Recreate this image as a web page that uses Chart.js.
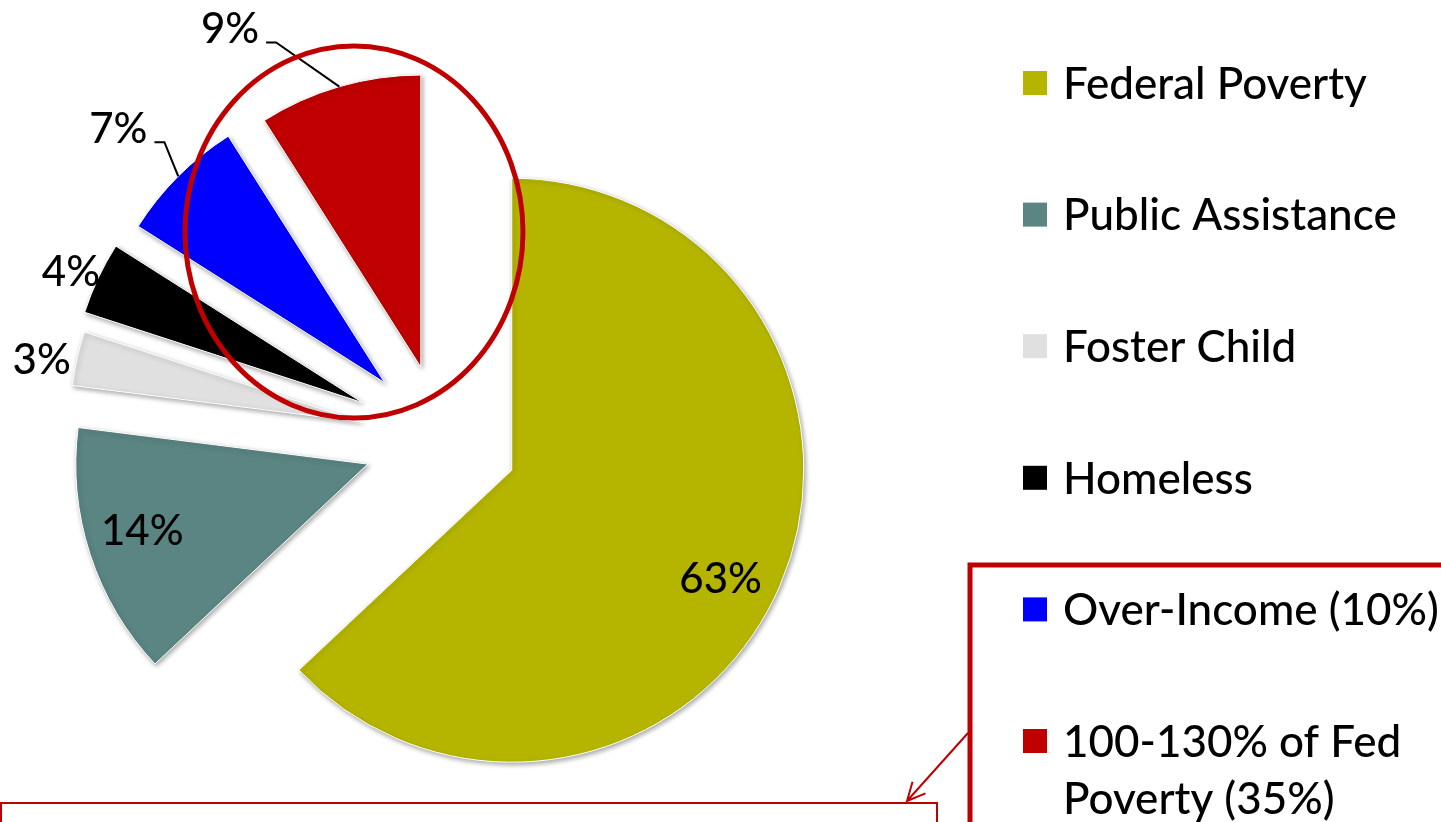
<!DOCTYPE html>
<html>
<head>
<meta charset="utf-8">
<script src="https://cdn.jsdelivr.net/npm/chart.js@4.4.1/dist/chart.umd.min.js"></script>
<style>
  html, body { margin: 0; padding: 0; background: #ffffff; overflow: hidden; }
  canvas { display: block; }
</style>
</head>
<body>
<canvas id="chart" width="1441" height="822"></canvas>
<script>
// ---------------- data ----------------
const categories = [
  'Federal Poverty',
  'Public Assistance',
  'Foster Child',
  'Homeless',
  'Over-Income (10%)',
  '100-130% of Fed\nPoverty (35%)'
];
const shares = [63, 14, 3, 4, 7, 9];
const valueLabels = ['63%', '14%', '3%', '4%', '7%', '9%'];

// ---------------- style ----------------
const colors = ['#B5B500', '#5A8583', '#E0E0E0', '#000000', '#0000FF', '#C00000'];
const explode = [76, 78, 82, 88, 81, 76];           // explosion distance per slice (px)
const labelPlace = [                                  // label radius factor / angle tweak (deg)
  { k: 0.805, da: 3.9 },
  { k: 0.805, da: 1.7 },
  { k: 1.118, da: -1.5 },
  { k: 1.095, da: -0.9 },
  { k: 1.262, da: -1.3 },
  { k: 1.331, da: -13.2 }
];
const hasLeader = [false, false, false, false, true, true];
const FONT = 'Lato, "Open Sans", sans-serif';
const WEIGHT = '500';
const LABEL_SIZE = 42;
const LEGEND_SIZE = 44;
const RED = '#C00000';

const explodePlugin = {
  id: 'explodeSlices',
  afterDatasetUpdate(chart, args) {
    const meta = chart.getDatasetMeta(args.index);
    const ca = chart.chartArea;
    const cx = (ca.left + ca.right) / 2;
    const cy = (ca.top + ca.bottom) / 2;
    meta.data.forEach((arc, i) => {
      const mid = (arc.startAngle + arc.endAngle) / 2;
      arc.x = cx + explode[i] * Math.cos(mid);
      arc.y = cy + explode[i] * Math.sin(mid);
    });
  }
};

const shadowPlugin = {
  id: 'sliceShadow',
  beforeDatasetsDraw(chart) {
    const ctx = chart.ctx;
    ctx.save();
    ctx.shadowColor = 'rgba(0,0,0,0.35)';
    ctx.shadowBlur = 5;
    ctx.shadowOffsetX = 1.5;
    ctx.shadowOffsetY = 2;
  },
  afterDatasetsDraw(chart) {
    chart.ctx.restore();
  }
};

const labelPlugin = {
  id: 'sliceLabels',
  afterDatasetsDraw(chart) {
    const ctx = chart.ctx;
    const meta = chart.getDatasetMeta(0);
    ctx.save();
    ctx.font = WEIGHT + ' ' + LABEL_SIZE + 'px ' + FONT;
    ctx.fillStyle = '#000000';
    ctx.textAlign = 'center';
    ctx.textBaseline = 'alphabetic';
    meta.data.forEach((arc, i) => {
      const R = arc.outerRadius;
      const mid = (arc.startAngle + arc.endAngle) / 2;
      const a = mid + labelPlace[i].da * Math.PI / 180;
      const px = arc.x + labelPlace[i].k * R * Math.cos(a);
      const py = arc.y + labelPlace[i].k * R * Math.sin(a);
      const base = py + 0.358 * LABEL_SIZE;
      ctx.fillText(valueLabels[i], px, base);
      if (hasLeader[i]) {
        const w = ctx.measureText(valueLabels[i]).width;
        const sx = px + w / 2 + 7;
        const sy = base - 1;
        ctx.beginPath();
        ctx.moveTo(sx, sy);
        ctx.lineTo(sx + 10, sy);
        ctx.lineTo(arc.x + R * Math.cos(mid), arc.y + R * Math.sin(mid));
        ctx.strokeStyle = '#000000';
        ctx.lineWidth = 2;
        ctx.stroke();
      }
    });
    ctx.restore();
  }
};

const legendPlugin = {
  id: 'sideLegend',
  afterDraw(chart) {
    const ctx = chart.ctx;
    const x0 = 1023, top = 83, gap = 131.6, box = 24, textX = 1063, lineH = 57;
    ctx.save();
    ctx.font = WEIGHT + ' ' + LEGEND_SIZE + 'px ' + FONT;
    ctx.textAlign = 'left';
    ctx.textBaseline = 'alphabetic';
    categories.forEach((name, i) => {
      const cy = top + i * gap;
      ctx.fillStyle = colors[i];
      ctx.fillRect(x0, cy - box / 2, box, box);
      ctx.fillStyle = '#000000';
      name.split('\n').forEach((line, j) => {
        ctx.fillText(line, textX, cy + 0.358 * LEGEND_SIZE + j * lineH);
      });
    });
    ctx.restore();
  }
};

const annotationPlugin = {
  id: 'annotations',
  afterDraw(chart) {
    const ctx = chart.ctx;
    ctx.save();
    ctx.strokeStyle = RED;
    // ellipse around the two highlighted slices
    ctx.lineWidth = 5;
    ctx.beginPath();
    ctx.ellipse(354, 232, 169, 186, 0, 0, Math.PI * 2);
    ctx.stroke();
    // box around highlighted legend entries
    ctx.lineWidth = 5;
    ctx.strokeRect(970, 565, 600, 400);
    // bottom box
    ctx.lineWidth = 2;
    ctx.strokeRect(1, 803, 936, 100);
    // arrow
    const x1 = 968, y1 = 733, x2 = 907, y2 = 801;
    ctx.beginPath();
    ctx.moveTo(x1, y1);
    ctx.lineTo(x2, y2);
    const ang = Math.atan2(y2 - y1, x2 - x1);
    const hl = 20, hw = 0.45;
    ctx.moveTo(x2 - hl * Math.cos(ang - hw), y2 - hl * Math.sin(ang - hw));
    ctx.lineTo(x2, y2);
    ctx.lineTo(x2 - hl * Math.cos(ang + hw), y2 - hl * Math.sin(ang + hw));
    ctx.stroke();
    ctx.restore();
  }
};

new Chart(document.getElementById('chart'), {
  type: 'pie',
  data: {
    labels: categories,
    datasets: [{
      data: shares,
      backgroundColor: colors,
      borderColor: '#ffffff',
      borderWidth: 1,
      radius: 292
    }]
  },
  options: {
    responsive: false,
    animation: false,
    events: [],
    layout: { padding: { left: 0, right: 557, top: 58, bottom: 0 } },
    plugins: {
      legend: { display: false },
      tooltip: { enabled: false }
    }
  },
  plugins: [explodePlugin, shadowPlugin, labelPlugin, legendPlugin, annotationPlugin]
});
</script>
</body>
</html>
